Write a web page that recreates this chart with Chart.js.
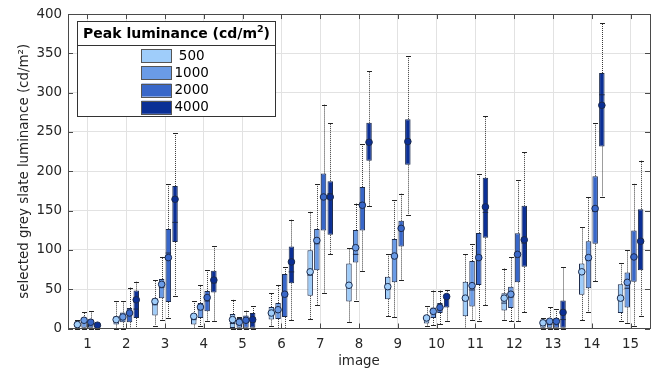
<!DOCTYPE html>
<html><head><meta charset="utf-8">
<script src="https://cdn.jsdelivr.net/npm/chart.js@4.4.1/dist/chart.umd.min.js"></script>
<style>html,body{margin:0;padding:0;background:#fff}canvas{display:block}</style>
</head><body>
<canvas id="c" width="664" height="374"></canvas>
<script>
const categories = ['1','2','3','4','5','6','7','8','9','10','11','12','13','14','15'];
const seriesNames = ['500','1000','2000','4000'];
const seriesColors = ['#9fcdfa','#6a9be6','#3867c9','#0b2f95'];

// 500 cd/m2
const lo500   = [0,0,3.8,0.9,0,3,12.2,8.4,15.5,3,0.8,11.3,0,10.5,9.2];
const q1_500  = [0.9,5,16.4,5,0,11.3,41.5,34.4,37.3,6.3,15.5,23,0.8,42.8,19.7];
const med500  = [4,10,30.2,11.3,6.3,19,67.9,52.4,49.9,12,35.6,32.3,5,72,35.6];
const q3_500  = [9.2,15.5,38.6,18.5,18.5,27.3,99.4,82.6,65.8,16.8,59.5,44.9,11.3,82.6,56.2];
const hi500   = [11.3,34.4,61.6,34.4,36.5,44.9,148.4,102.3,94.3,28.1,94.3,76.3,13.4,128.7,83.9];
const mean500 = [5,11.3,34.4,15.5,11.3,19.7,72.1,55,53.2,13.4,38.6,38.6,7.2,72.1,38.6];
// 1000 cd/m2
const lo1000   = [0,0,11.3,3.8,0,1,30.2,35.6,14.2,5,11.3,9.2,0,21,7.2];
const q1_1000  = [0.9,8,38.6,13.4,0.9,12.2,74.2,83.9,58.7,13.4,28.1,26,0.8,51.2,26.8];
const med1000  = [8,14,52,24,6,23,107.8,94.3,90,20,49,40,5,86.8,51.2];
const q3_1000  = [13.4,20.5,62.9,32.3,13.4,32.3,126.7,125.3,114,26.8,85.9,53.2,12.2,111.1,71.3];
const hi1000   = [20.5,34.4,91,55.4,14.5,55.4,183.3,158.9,163.1,48.2,107.8,91,26.8,167.3,99.4];
const mean1000 = [10.5,14.7,56.2,27.3,8,23.9,112,102.8,92.2,21.8,54.5,43.6,9.2,90.2,58.7];
// 2000 cd/m2
const lo2000   = [0,0.6,13.4,9.2,0,1,44.9,73,61.6,5.9,9.2,9.2,0,60.4,2.9];
const q1_2000  = [0.9,8,33.6,21.8,0.9,14.7,124.5,124.5,104.4,19.7,55.4,58.7,0.8,107.8,59.5];
const med2000  = [6,18,96,35,8,40.6,166,160.1,125.8,26,90,91,6,148.8,91];
const q3_2000  = [11.3,26,126.7,47.8,16.4,69.2,197.1,179.9,137.1,32.3,121.6,121.2,13.4,193.7,124.5];
const hi2000   = [21.8,52,183.3,74.2,22.6,78.4,284.7,234.8,171.5,48.2,195.9,188.3,24.7,261.7,184];
const mean2000 = [8,19.7,90.2,39.4,10.5,43.6,167.3,156.8,127.4,26.8,90.2,94.3,9.2,152.6,91];
// 4000 cd/m2
const lo4000   = [0,1,41.5,9.2,0,10.5,94.3,156,144.7,9.2,30.2,21,0,167.7,15.5];
const q1_4000  = [0.9,13.4,109.9,45.7,0.9,57.5,119.1,213.5,208.4,26.8,115.4,78.4,0.8,231.5,74.2];
const med4000  = [3,24.7,135,58,8,72,171.5,237.8,236,38,147.6,108.6,11.3,297.3,111];
const q3_4000  = [6.3,48.2,181.2,73.4,19.7,104.4,187.4,261.7,266.3,43.6,191.6,156,35.6,325,151.8];
const hi4000   = [7,59.5,248.3,104.8,28.1,138.4,260.8,327,346,49,270.5,223.9,78.4,388,213.5];
const mean4000 = [4.2,36.5,164.4,61.6,11.3,84.7,167.3,236.9,237.8,40.6,154.7,112.8,20.5,283.9,111];

const yTickStep = 50;
const yMax = 400;

const stats = [
  {lo:lo500, q1:q1_500, med:med500, q3:q3_500, hi:hi500, mean:mean500},
  {lo:lo1000, q1:q1_1000, med:med1000, q3:q3_1000, hi:hi1000, mean:mean1000},
  {lo:lo2000, q1:q1_2000, med:med2000, q3:q3_2000, hi:hi2000, mean:mean2000},
  {lo:lo4000, q1:q1_4000, med:med4000, q3:q3_4000, hi:hi4000, mean:mean4000}
];

const FONT = 'DejaVu Sans';
const TXT = '#262626';
const EDGE = '#1c2a4a';

const boxParts = {
  id: 'boxParts',
  beforeDatasetsDraw(chart) {
    const ctx = chart.ctx, ys = chart.scales.y;
    ctx.save();
    stats.forEach((s, di) => {
      const meta = chart.getDatasetMeta(di);
      meta.data.forEach((el, i) => {
        const x = Math.round(el.x) + 0.5, w = el.width;
        const pLo = ys.getPixelForValue(s.lo[i]), pHi = ys.getPixelForValue(s.hi[i]);
        const pQ1 = ys.getPixelForValue(s.q1[i]), pQ3 = ys.getPixelForValue(s.q3[i]);
        ctx.strokeStyle = '#3a3a3a';
        ctx.lineWidth = 1;
        ctx.setLineDash([1, 1]);
        ctx.beginPath();
        ctx.moveTo(x, pQ3); ctx.lineTo(x, pHi);
        ctx.moveTo(x, pQ1); ctx.lineTo(x, pLo);
        ctx.stroke();
        ctx.setLineDash([]);
        ctx.strokeStyle = '#222';
        const cw = w * 0.45;
        ctx.beginPath();
        ctx.moveTo(x - cw, Math.round(pHi) + 0.5); ctx.lineTo(x + cw, Math.round(pHi) + 0.5);
        ctx.moveTo(x - cw, Math.round(pLo) + 0.5); ctx.lineTo(x + cw, Math.round(pLo) + 0.5);
        ctx.stroke();
      });
    });
    ctx.restore();
  },
  afterDatasetsDraw(chart) {
    const ctx = chart.ctx, ys = chart.scales.y, xs = chart.scales.x;
    const a = chart.chartArea;
    ctx.save();
    stats.forEach((s, di) => {
      const meta = chart.getDatasetMeta(di);
      meta.data.forEach((el, i) => {
        const x = el.x, w = el.width;
        const pMed = ys.getPixelForValue(s.med[i]);
        ctx.strokeStyle = EDGE; ctx.lineWidth = 1;
        ctx.beginPath();
        ctx.moveTo(x - w / 2, pMed); ctx.lineTo(x + w / 2, pMed);
        ctx.stroke();
        const pMean = ys.getPixelForValue(s.mean[i]);
        ctx.beginPath();
        ctx.arc(x, pMean, 3.3, 0, Math.PI * 2);
        ctx.fillStyle = seriesColors[di];
        ctx.fill();
        ctx.strokeStyle = EDGE;
        ctx.stroke();
      });
    });
    // frame
    ctx.strokeStyle = '#4a4a4a'; ctx.lineWidth = 1;
    ctx.strokeRect(Math.round(a.left) + 0.5, Math.round(a.top) + 0.5, Math.round(a.right - a.left), Math.round(a.bottom - a.top));
    // inward ticks
    ctx.beginPath();
    categories.forEach((c, i) => {
      const px = Math.round(xs.getPixelForValue(i)) + 0.5;
      ctx.moveTo(px, a.bottom); ctx.lineTo(px, a.bottom - 5);
      ctx.moveTo(px, a.top); ctx.lineTo(px, a.top + 5);
    });
    for (let v = 0; v <= yMax; v += yTickStep) {
      const py = Math.round(ys.getPixelForValue(v)) + 0.5;
      ctx.moveTo(a.left, py); ctx.lineTo(a.left + 5, py);
      ctx.moveTo(a.right, py); ctx.lineTo(a.right - 5, py);
    }
    ctx.stroke();
    // legend
    const L = 77.5, T = 21.5, W = 198, H = 95;
    ctx.fillStyle = '#fff';
    ctx.fillRect(L, T, W, H);
    ctx.strokeStyle = '#333';
    ctx.strokeRect(L, T, W, H);
    ctx.beginPath(); ctx.moveTo(L, 45.5); ctx.lineTo(L + W, 45.5); ctx.stroke();
    ctx.fillStyle = '#000';
    ctx.textBaseline = 'middle';
    const t1 = 'Peak luminance (cd/m', t2 = ')';
    ctx.font = 'bold 14px "' + FONT + '"';
    const w1 = ctx.measureText(t1).width, w3 = ctx.measureText(t2).width;
    ctx.font = 'bold 9.5px "' + FONT + '"';
    const w2 = ctx.measureText('2').width;
    let tx = L + W / 2 - (w1 + w2 + w3) / 2;
    ctx.font = 'bold 14px "' + FONT + '"';
    ctx.textAlign = 'left';
    ctx.fillText(t1, tx, 34.5);
    ctx.font = 'bold 9.5px "' + FONT + '"';
    ctx.fillText('2', tx + w1, 29.5);
    ctx.font = 'bold 14px "' + FONT + '"';
    ctx.fillText(t2, tx + w1 + w2, 34.5);
    ctx.font = '13.5px "' + FONT + '"';
    seriesNames.forEach((n, k) => {
      const cy = 55.7 + k * 17.2;
      ctx.fillStyle = seriesColors[k];
      ctx.fillRect(141.5, cy - 6.5, 30, 13);
      ctx.strokeStyle = '#555';
      ctx.strokeRect(141.5, Math.round(cy - 6.5) + 0.5, 30, 13);
      ctx.fillStyle = '#000';
      ctx.fillText(n.length === 3 ? ' ' + n : n, 174.5, cy + 0.5);
    });
    ctx.restore();
  }
};

const datasets = stats.map((s, di) => ({
  label: seriesNames[di],
  data: s.q1.map((v, i) => [v, s.q3[i]]),
  backgroundColor: seriesColors[di],
  borderColor: EDGE,
  borderWidth: 1,
  borderSkipped: false,
  categoryPercentage: 0.69,
  barPercentage: 0.82
}));

new Chart(document.getElementById('c'), {
  type: 'bar',
  data: { labels: categories, datasets },
  plugins: [boxParts],
  options: {
    responsive: false,
    animation: false,
    devicePixelRatio: 1,
    layout: { padding: { top: 11, right: 14, left: 0, bottom: 0 } },
    plugins: { legend: { display: false }, tooltip: { enabled: false } },
    scales: {
      x: {
        type: 'category',
        offset: true,
        grid: { offset: false, color: '#e2e2e2', drawTicks: false },
        border: { display: false },
        ticks: { font: { family: FONT, size: 13.4 }, color: TXT, padding: 7.5, maxRotation: 0, autoSkip: false },
        title: { display: true, text: 'image', font: { family: FONT, size: 13.4 }, color: TXT, padding: { top: 0, bottom: 4 } },
        afterFit(s) { s.height = 45.5; }
      },
      y: {
        min: 0, max: yMax,
        grid: { color: '#e2e2e2', drawTicks: false },
        border: { display: false },
        ticks: { stepSize: yTickStep, font: { family: FONT, size: 13.4 }, color: TXT, padding: 6 },
        title: { display: true, text: 'selected grey slate luminance (cd/m²)', font: { family: FONT, size: 13.4 }, color: TXT, padding: { top: 16, bottom: 0 } },
        afterFit(s) { s.width = 68; }
      }
    }
  }
});
</script>
</body></html>
